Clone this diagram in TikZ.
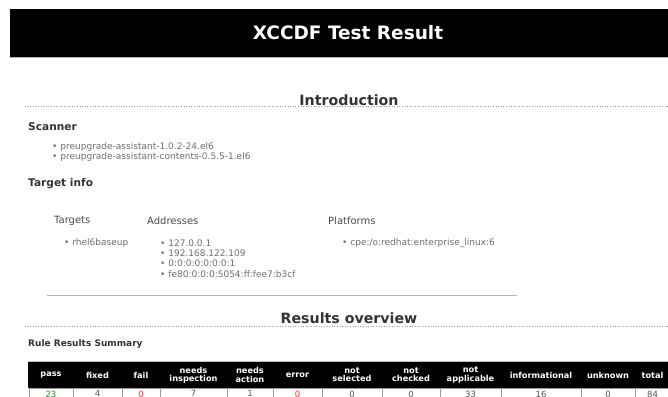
\documentclass[tikz,border=0pt]{standalone}
\usepackage{fontspec}
\setmainfont{DejaVu Sans}
\definecolor{txt}{HTML}{6E6E6E}
\definecolor{headc}{HTML}{333333}
\definecolor{subc}{HTML}{4A4A4A}
\definecolor{rulec}{HTML}{9A9A9A}
\definecolor{passg}{HTML}{2E8B2E}
\definecolor{failr}{HTML}{E03048}
\definecolor{numc}{HTML}{555555}
\begin{document}
\begin{tikzpicture}[x=1pt,y=-1pt,
  titlestyle/.style={text=white,font=\bfseries\fontsize{18.5}{20}\selectfont,inner sep=0},
  sectitle/.style={text=headc,font=\bfseries\fontsize{14.2}{16}\selectfont,inner sep=0},
  subhead/.style={text=headc,font=\bfseries\fontsize{10.6}{12}\selectfont,anchor=west,inner sep=0},
  colhead/.style={text=subc,font=\fontsize{10}{11}\selectfont,anchor=west,inner sep=0},
  item/.style={text=txt,font=\fontsize{9}{10}\selectfont,anchor=west,inner sep=0},
  smallhead/.style={text=headc,font=\bfseries\fontsize{9}{10}\selectfont,anchor=west,inner sep=0},
  thead/.style={text=white,font=\bfseries\fontsize{8.2}{9.2}\selectfont,align=center,inner sep=0},
  tcell/.style={font=\fontsize{8.5}{9}\selectfont,anchor=north,inner sep=0},
  dotline/.style={rulec,dotted,line width=0.6pt},
  solidline/.style={rulec!70,line width=0.6pt}]
\useasboundingbox (0,0) rectangle (668,396);
\clip (0,0) rectangle (668,396);
\fill[white] (0,0) rectangle (668,396);
% header band
\fill[black] (10,9) rectangle (668,58);
\draw[gray!60,line width=1pt] (10,57.5) -- (668,57.5);
\node[titlestyle] (title) at (348,33) {XCCDF Test Result};
% Introduction
\node[sectitle] (intro) at (349,100) {Introduction};
\coordinate (d1a) at (25,106.5);
\coordinate (d1b) at (668,106.5);
\draw[dotline] (d1a) -- (d1b);
\node[subhead] (scanner) at (28,127) {Scanner};
\node[item] (s1) at (52,147) {• preupgrade-assistant-1.0.2-24.el6};
\node[item] (s2) at (52,157.5) {• preupgrade-assistant-contents-0.5.5-1.el6};
\node[subhead] (tinfo) at (28,184) {Target info};
\node[colhead] (targets) at (54,220.5) {Targets};
\node[colhead] (addresses) at (147,220.5) {Addresses};
\node[colhead] (platforms) at (328,220.5) {Platforms};
\node[item] (t1) at (64,243) {• rhel6baseup};
\node[item] (a1) at (160,243) {• 127.0.0.1};
\node[item] (a2) at (160,253.3) {• 192.168.122.109};
\node[item] (a3) at (160,263.6) {• 0:0:0:0:0:0:0:1};
\node[item] (a4) at (160,273.9) {• fe80:0:0:0:5054:ff:fee7:b3cf};
\node[item] (p1) at (342,243) {• cpe:/o:redhat:enterprise\_linux:6};
\coordinate (l1a) at (47,295);
\coordinate (l1b) at (517,295);
\draw[solidline] (l1a) -- (l1b);
% Results overview
\node[sectitle] (results) at (349,318) {Results overview};
\coordinate (d2a) at (25,326.5);
\coordinate (d2b) at (668,326.5);
\draw[dotline] (d2a) -- (d2b);
\node[smallhead] (rrs) at (28,344) {Rule Results Summary};
% table
\fill[gray!50] (28,360.5) rectangle (668,362);
\fill[black] (28,362) rectangle (668,388);
\foreach \a/\b/\h/\v/\c [count=\i] in {
  29/73/{pass}/23/passg,
  73/122/{fixed}/4/numc,
  122/160/{fail}/0/failr,
  160/227/{needs\\[-1pt]inspection}/7/numc,
  227/273/{needs\\[-1pt]action}/1/numc,
  273/322/{error}/0/failr,
  322/382/{not\\[-1pt]selected}/0/numc,
  382/440/{not\\[-1pt]checked}/0/numc,
  440/501/{not\\[-1pt]applicable}/33/numc,
  501/581/{informational}/16/numc,
  581/635/{unknown}/0/numc,
  635/670/{total}/84/numc} {
  \node[thead] (h\i) at ({(\a+\b)/2},375) {\h};
  \draw[rulec,line width=0.6pt] (\a,388) rectangle (\b,404);
  \node[tcell,text=\c] (v\i) at ({(\a+\b)/2},390.5) {\v};
}
\end{tikzpicture}
\end{document}
